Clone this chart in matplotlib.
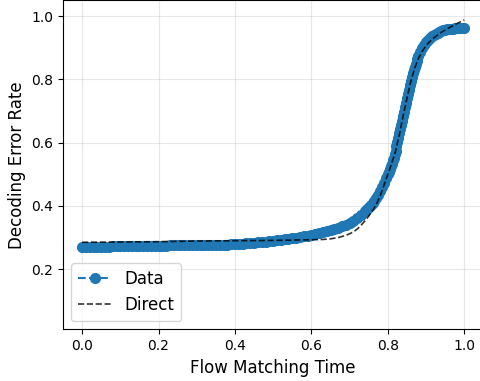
import numpy as np
import matplotlib
matplotlib.use("Agg")
import matplotlib.pyplot as plt

t_data = np.concatenate([
    np.arange(0.0, 0.735, 0.01),      # flat part, coarse sampling
    np.arange(0.74, 0.7975, 0.005),   # knee
    np.arange(0.80, 0.8790, 0.0025),  # steep rise
    np.arange(0.88, 1.0001, 0.005),   # saturation
])
err_data = [
    # 0.00 - 0.73
    0.270, 0.270, 0.270, 0.271, 0.271, 0.271, 0.271, 0.271, 0.272, 0.272,
    0.272, 0.272, 0.272, 0.273, 0.273, 0.273, 0.273, 0.273, 0.274, 0.274,
    0.274, 0.274, 0.274, 0.275, 0.275, 0.275, 0.275, 0.275, 0.276, 0.276,
    0.276, 0.276, 0.277, 0.277, 0.277, 0.277, 0.278, 0.278, 0.278, 0.279,
    0.280, 0.280, 0.281, 0.282, 0.283, 0.284, 0.285, 0.286, 0.287, 0.288,
    0.290, 0.291, 0.293, 0.295, 0.297, 0.298, 0.300, 0.302, 0.304, 0.306,
    0.309, 0.311, 0.314, 0.317, 0.320, 0.324, 0.327, 0.331, 0.335, 0.340,
    0.345, 0.352, 0.361, 0.371,
    # 0.740 - 0.795
    0.383, 0.390, 0.396, 0.403, 0.410, 0.417, 0.425, 0.435, 0.447, 0.460,
    0.473, 0.487,
    # 0.8000 - 0.8775
    0.500, 0.508, 0.516, 0.525, 0.534, 0.544, 0.553, 0.563, 0.575, 0.590,
    0.603, 0.616, 0.629, 0.642, 0.656, 0.670, 0.684, 0.698, 0.712, 0.726,
    0.740, 0.754, 0.768, 0.782, 0.795, 0.807, 0.819, 0.830, 0.840, 0.849,
    0.858, 0.866,
    # 0.880 - 1.000
    0.874, 0.888, 0.900, 0.910, 0.918, 0.926, 0.932, 0.937, 0.941, 0.945,
    0.948, 0.951, 0.953, 0.955, 0.957, 0.958, 0.959, 0.960, 0.960, 0.961,
    0.961, 0.962, 0.962, 0.962, 0.962,
]

# --- direct prediction ---
t_direct = [0.00, 0.10, 0.20, 0.30, 0.40, 0.50, 0.55, 0.60, 0.63, 0.65,
            0.67, 0.69, 0.70, 0.71, 0.72, 0.73, 0.74, 0.75, 0.76, 0.77,
            0.78, 0.79, 0.80, 0.81, 0.82, 0.83, 0.84, 0.85, 0.86, 0.87,
            0.88, 0.89, 0.90, 0.91, 0.92, 0.94, 0.96, 0.98, 1.00]
err_direct = [0.285, 0.286, 0.287, 0.289, 0.290, 0.291, 0.292, 0.293, 0.294, 0.296,
              0.300, 0.307, 0.312, 0.318, 0.327, 0.339, 0.353, 0.368, 0.385, 0.405,
              0.432, 0.466, 0.500, 0.535, 0.572, 0.625, 0.685, 0.740, 0.793, 0.835,
              0.866, 0.889, 0.907, 0.920, 0.931, 0.949, 0.963, 0.976, 0.988]

fig = plt.figure(figsize=(4.81, 3.81), dpi=100)
ax = fig.add_axes([0.131, 0.1357, 0.874, 0.8635])

ax.plot(t_data, err_data, 'o--', color='#1f77b4', ms=7, label='Data')
ax.plot(t_direct, err_direct, 'k--', lw=1.2, alpha=0.8, label='Direct')

ax.set_xlim(-0.05, 1.05)
ax.set_ylim(0.01, 1.05)
ax.set_xticks([0.0, 0.2, 0.4, 0.6, 0.8, 1.0])
ax.set_yticks([0.2, 0.4, 0.6, 0.8, 1.0])
ax.tick_params(labelsize=10)
ax.set_xlabel('Flow Matching Time', fontsize=12)
ax.set_ylabel('Decoding Error Rate', fontsize=12)
ax.grid(True, alpha=0.3)
ax.legend(loc='lower left', fontsize=12)

fig.savefig('out.png', dpi=100)
